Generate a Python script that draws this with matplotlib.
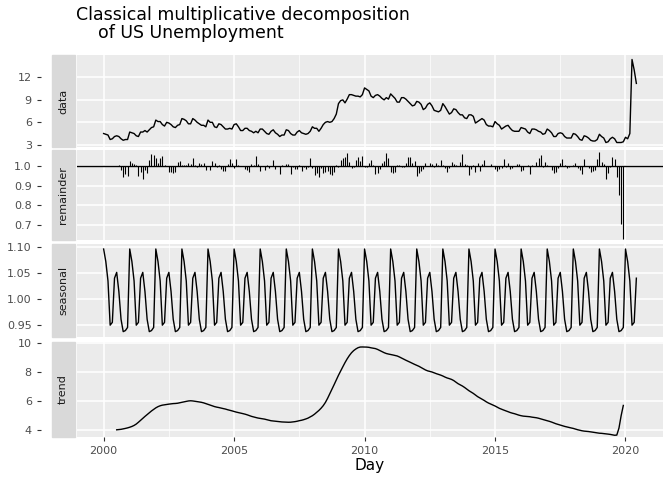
import numpy as np
import matplotlib
matplotlib.use("Agg")
import matplotlib.pyplot as plt
from matplotlib.patches import Rectangle

start_year = 2000
unemp = [
4.5,4.4,4.3,3.7,3.8,4.1,4.2,4.1,3.8,3.6,3.7,3.7,
4.7,4.6,4.5,4.2,4.1,4.7,4.7,4.9,4.7,5.0,5.3,5.4,
6.3,6.1,6.1,5.7,5.5,6.0,5.9,5.7,5.4,5.3,5.6,5.7,
6.5,6.4,6.2,5.8,5.8,6.5,6.3,6.0,5.8,5.6,5.6,5.4,
6.3,6.0,6.0,5.4,5.3,5.8,5.7,5.4,5.1,5.1,5.2,5.1,
5.7,5.8,5.4,4.9,4.9,5.2,5.2,4.9,4.8,4.6,4.8,4.6,
5.1,5.1,4.8,4.5,4.4,4.8,5.0,4.6,4.4,4.1,4.3,4.3,
5.0,4.9,4.5,4.3,4.3,4.7,4.9,4.6,4.5,4.4,4.5,4.8,
5.4,5.2,5.2,4.8,5.2,5.7,6.0,6.1,6.0,6.1,6.5,7.1,
8.5,8.9,9.0,8.6,9.1,9.7,9.7,9.6,9.5,9.5,9.4,9.7,
10.6,10.4,10.2,9.5,9.3,9.6,9.7,9.5,9.2,9.0,9.3,9.1,
9.8,9.5,9.2,8.7,8.7,9.3,9.3,9.1,8.8,8.5,8.2,8.3,
8.8,8.7,8.4,7.7,7.9,8.4,8.6,8.2,7.6,7.5,7.4,7.6,
8.5,8.1,7.6,7.1,7.3,7.8,7.7,7.3,7.0,7.0,6.6,6.5,
7.0,7.0,6.8,5.9,6.1,6.3,6.5,6.3,5.7,5.5,5.5,5.4,
6.1,5.8,5.6,5.1,5.3,5.5,5.6,5.2,4.9,4.8,4.8,4.8,
5.3,5.2,5.1,4.7,4.5,5.1,5.1,5.0,4.8,4.7,4.4,4.5,
5.1,4.9,4.6,4.1,4.1,4.5,4.6,4.5,4.1,3.9,3.9,3.9,
4.5,4.4,4.1,3.7,3.6,4.2,4.1,3.9,3.6,3.5,3.5,3.7,
4.4,4.1,3.9,3.3,3.4,3.8,4.0,3.8,3.3,3.3,3.3,3.4,
4.0,3.8,4.5,14.4,13.0,11.2]

y = np.array(unemp)
n = len(y)
t = start_year + np.arange(n) / 12.0

# classical multiplicative decomposition (2x12 MA)
w = np.r_[0.5, np.ones(11), 0.5] / 12
trend = np.full(n, np.nan)
for i in range(6, n - 6):
    trend[i] = np.sum(y[i-6:i+7] * w)
det = y / trend
month = np.arange(n) % 12
sf = np.array([np.nanmean(det[month == m]) for m in range(12)])
sf = sf / sf.mean()
seasonal = sf[month]
remainder = y / (trend * seasonal)

fig = plt.figure(figsize=(6.72, 4.8), dpi=100)
W, H = 672, 480
left, right = 77, 663
panels = [(55, 147), (150, 240), (244, 337), (342, 437)]
labels = ["data", "remainder", "seasonal", "trend"]
yticks = [[3, 6, 9, 12], [0.7, 0.8, 0.9, 1.0], [0.95, 1.00, 1.05, 1.10], [4, 6, 8, 10]]
ytl = [["3", "6", "9", "12"], ["0.7", "0.8", "0.9", "1.0"], ["0.95", "1.00", "1.05", "1.10"], ["4", "6", "8", "10"]]
xr = (t[0], t[-1]); pad = 0.05 * (xr[1] - xr[0])
axes = []
for k, (top, bot) in enumerate(panels):
    ax = fig.add_axes([left / W, 1 - bot / H, (right - left) / W, (bot - top) / H])
    ax.set_facecolor("#EBEBEB")
    for s in ax.spines.values():
        s.set_visible(False)
    ax.spines["left"].set_position(("outward", 26))
    ax.set_xlim(xr[0] - pad, xr[1] + pad)
    ax.set_xticks([2000, 2005, 2010, 2015, 2020])
    ax.set_xticks([2002.5, 2007.5, 2012.5, 2017.5], minor=True)
    ax.set_yticks(yticks[k]); ax.set_yticklabels(ytl[k])
    ax.grid(True, which="major", color="white", lw=1.1)
    ax.grid(True, which="minor", axis="x", color="white", lw=0.5)
    ax.set_axisbelow(True)
    ax.tick_params(axis="both", which="both", length=3, color="#333333", labelsize=8, labelcolor="#4D4D4D")
    ax.tick_params(axis="x", which="minor", length=0)
    if k < 3:
        ax.tick_params(axis="x", labelbottom=False, length=0)
    ax.add_patch(Rectangle((-0.043, 0), 0.039, 1, transform=ax.transAxes, color="#D9D9D9", clip_on=False))
    ax.text(-0.0235, 0.5, labels[k], transform=ax.transAxes, rotation=90, ha="center", va="center", fontsize=8, color="#1A1A1A")
    axes.append(ax)

axes[0].plot(t, y, color="black", lw=1)
axes[0].set_ylim(2.7, 15.0)
axes[1].axhline(1.0, color="black", lw=1)
axes[1].vlines(t, 1.0, remainder, color="black", lw=0.8)
axes[1].set_ylim(0.625, 1.08)
axes[2].plot(t, seasonal, color="black", lw=1)
axes[2].set_ylim(0.928, 1.105)
axes[3].plot(t, trend, color="black", lw=1)
axes[3].set_ylim(3.5, 10.1)

fig.text((left + right) / 2 / W, 1 - 470 / H, "Day", ha="center", fontsize=11)
fig.text(76 / W, 1 - 24 / H, "Classical multiplicative decomposition\n    of US Unemployment", ha="left", va="center", fontsize=12.5, linespacing=1.0)
fig.savefig("out.png", dpi=100)
